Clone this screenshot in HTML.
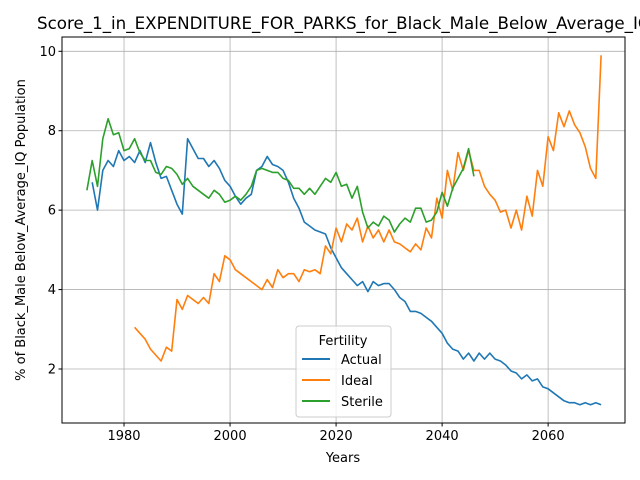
<!DOCTYPE html>
<html><head><meta charset="utf-8"><style>
body{margin:0;background:#fff}
svg{display:block;font-family:"DejaVu Sans","Liberation Sans",sans-serif}
</style></head><body>
<svg id="chart" width="640" height="480" viewBox="0 0 640 480">
<rect width="640" height="480" fill="#fff"/>
<g id="grid"></g>
<g id="lines"></g>
<rect x="62" y="37" width="563" height="386" fill="none" stroke="#000" stroke-width="1"/>
<g id="ticks"></g>
<text x="37" y="29" text-anchor="start" font-size="16.7">Score_1_in_EXPENDITURE_FOR_PARKS_for_Black_Male_Below_Average_IQ</text>
<text x="343" y="462" text-anchor="middle" font-size="13">Years</text>
<text transform="translate(25,230) rotate(-90)" text-anchor="middle" font-size="13">% of Black_Male Below_Average_IQ Population</text>
<g>
<rect x="296" y="326" width="95" height="91" rx="3" fill="#fff" fill-opacity="0.8" stroke="#ccc"/>
<text x="343" y="345" text-anchor="middle" font-size="13">Fertility</text>
<g><line x1="302" y1="359" x2="330" y2="359" stroke="#1f77b4" stroke-width="2"/><text x="341" y="364" font-size="13">Actual</text></g>
<g><line x1="302" y1="380" x2="330" y2="380" stroke="#ff7f0e" stroke-width="2"/><text x="341" y="385" font-size="13">Ideal</text></g>
<g><line x1="302" y1="401" x2="330" y2="401" stroke="#2ca02c" stroke-width="2"/><text x="341" y="406" font-size="13">Sterile</text></g>
</g>
</svg>
<script>
const actualStart = 1974;
const actualValues = [6.7,6.0,7.0,7.25,7.1,7.5,7.25,7.35,7.2,7.5,7.2,7.7,7.2,6.8,6.85,6.5,6.15,5.9,7.8,7.55,7.3,7.3,7.1,7.25,7.05,6.75,6.6,6.35,6.15,6.3,6.4,7.0,7.1,7.35,7.15,7.1,7.0,6.7,6.3,6.05,5.7,5.6,5.5,5.45,5.4,5.05,4.8,4.55,4.4,4.25,4.1,4.2,3.95,4.2,4.1,4.15,4.15,4.0,3.8,3.7,3.45,3.45,3.4,3.3,3.2,3.05,2.9,2.65,2.5,2.45,2.25,2.4,2.2,2.4,2.25,2.4,2.25,2.2,2.1,1.95,1.9,1.75,1.85,1.7,1.75,1.55,1.5,1.4,1.3,1.2,1.15,1.15,1.1,1.15,1.1,1.15,1.1];
const idealStart = 1982;
const idealValues = [3.05,2.9,2.75,2.5,2.35,2.2,2.55,2.45,3.75,3.5,3.85,3.75,3.65,3.8,3.65,4.4,4.2,4.85,4.75,4.5,4.4,4.3,4.2,4.1,4.0,4.25,4.05,4.5,4.3,4.4,4.4,4.2,4.5,4.45,4.5,4.4,5.1,4.9,5.55,5.2,5.65,5.5,5.8,5.2,5.6,5.3,5.5,5.2,5.5,5.2,5.15,5.05,4.95,5.15,5.0,5.55,5.3,6.3,5.8,7.0,6.5,7.45,7.0,7.5,7.0,7.0,6.6,6.4,6.25,5.95,6.0,5.55,6.0,5.5,6.35,5.85,7.0,6.6,7.85,7.5,8.45,8.1,8.5,8.15,7.95,7.6,7.05,6.8,9.9];
const sterileStart = 1973;
const sterileValues = [6.5,7.25,6.6,7.8,8.3,7.9,7.95,7.5,7.55,7.8,7.45,7.25,7.25,6.95,6.9,7.1,7.05,6.9,6.65,6.8,6.6,6.5,6.4,6.3,6.5,6.4,6.2,6.25,6.35,6.25,6.4,6.6,7.0,7.05,7.0,6.95,6.95,6.8,6.75,6.55,6.55,6.4,6.55,6.4,6.6,6.8,6.7,6.95,6.6,6.65,6.3,6.6,5.95,5.55,5.7,5.6,5.85,5.75,5.45,5.65,5.8,5.7,6.05,6.05,5.7,5.75,5.95,6.45,6.1,6.55,6.8,7.05,7.55,6.85];
const xTicks = [1980,2000,2020,2040,2060];
const yTicks = [2,4,6,8,10];

const NS="http://www.w3.org/2000/svg";
const X0=62,X1=625,Y0=423,Y1=37, XMIN=1968.3, XMAX=2074.5, YMIN=0.64, YMAX=10.36;
function xs(v){return X0+(v-XMIN)/(XMAX-XMIN)*(X1-X0);}
function ys(v){return Y0-(v-YMIN)/(YMAX-YMIN)*(Y0-Y1);}
function mk(tag,attrs,parent){const e=document.createElementNS(NS,tag);for(const k in attrs)e.setAttribute(k,attrs[k]);parent.appendChild(e);return e;}
const grid=document.getElementById('grid'),ticks=document.getElementById('ticks'),lines=document.getElementById('lines');
xTicks.forEach(t=>{
  const x=xs(t);
  const g=mk('line',{x1:x,x2:x,y1:Y1,y2:Y0,stroke:'#b0b0b0','stroke-width':0.8},grid);
  
  
  mk('line',{x1:x,x2:x,y1:Y0,y2:Y0+3.5,stroke:'#000'},ticks);
  const tx=mk('text',{x:x,y:Y0+17,'text-anchor':'middle','font-size':13},ticks);
  tx.textContent=t;
  
  
});
yTicks.forEach(t=>{
  const y=ys(t);
  const g=mk('line',{x1:X0,x2:X1,y1:y,y2:y,stroke:'#b0b0b0','stroke-width':0.8},grid);
  
  
  mk('line',{x1:X0-3.5,x2:X0,y1:y,y2:y,stroke:'#000'},ticks);
  const tx=mk('text',{x:X0-6,y:y+4.5,'text-anchor':'end','font-size':13},ticks);
  tx.textContent=t;
  
  
});
function series(start,vals,color,name){
  const pts=vals.map((v,i)=>xs(start+i).toFixed(1)+','+ys(v).toFixed(1)).join(' ');
  const p=mk('polyline',{points:pts,fill:'none',stroke:color,'stroke-width':1.6,'stroke-linejoin':'round'},lines);
  
  
}
series(actualStart,actualValues,'#1f77b4','actual-line');
series(idealStart,idealValues,'#ff7f0e','ideal-line');
series(sterileStart,sterileValues,'#2ca02c','sterile-line');
</script>
</body></html>
